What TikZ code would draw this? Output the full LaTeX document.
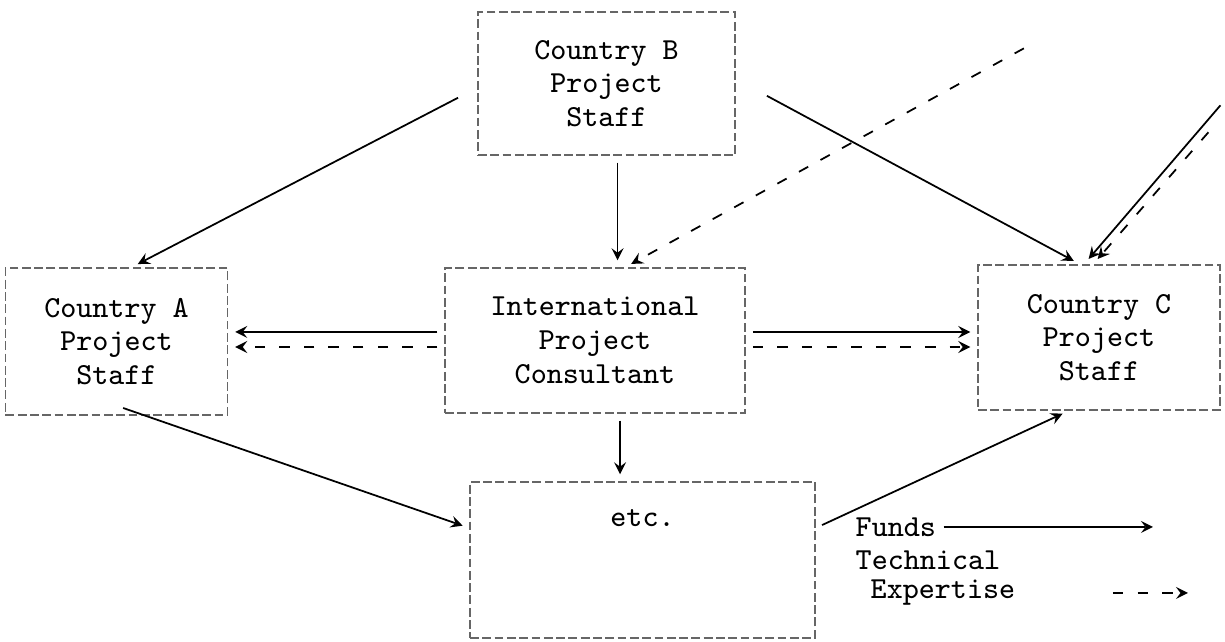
\documentclass[tikz,border=0pt]{standalone}
\usepackage{tikz}
\usetikzlibrary{calc}
\tikzset{
	box/.style={draw=black!60, dash pattern=on 2.5pt off 1pt, line width=0.4pt, inner sep=0pt, align=center, font=\fontsize{8.7}{9.6}\selectfont\ttfamily},
	fund/.style={line width=0.5pt, ->, >=stealth, shorten >=2pt, shorten <=2pt},
	expert/.style={line width=0.5pt, dash pattern=on 3pt off 4pt, ->, >=stealth, shorten >=2pt, shorten <=2pt},
	legendtext/.style={inner sep=0pt, anchor=west, font=\fontsize{8.7}{9.6}\selectfont\ttfamily}
}

\begin{document}
\begin{tikzpicture}
		%%%%% START %%%%%
		\useasboundingbox (0, 0) rectangle (12.25, -6.42);
		
		\node[box, minimum width=2.57cm, minimum height=1.43cm] (countryB) at (6.065, -0.835) {Country B\\Project\\Staff};
		\node[box, minimum width=2.22cm, minimum height=1.47cm] (countryA) at (1.165, -3.415) {Country A\\Project\\Staff};
		\node[box, minimum width=3.0cm, minimum height=1.45cm] (consultant) at (5.95, -3.405) {International\\Project\\Consultant};
		\node[box, minimum width=2.42cm, minimum height=1.45cm] (countryC) at (10.99, -3.375) {Country C\\Project\\Staff};
		\node[box, anchor=base, minimum width=3.45cm, text height=0.45cm, text depth=1.11cm] (etc) at (6.425, -5.27) {etc.};
		
		\coordinate (farTE) at (10.3, -0.45);
		\coordinate (farFundC) at (12.25, -1.0);
		\coordinate (farTEC) at (12.13, -1.27);
		
		% funds
		\draw[fund] ([shift={(-0.13,-0.11)}]countryB.west) -- ([xshift=0.15cm]countryA.north);
		\draw[fund] ([shift={(0.25,-0.09)}]countryB.east) -- ([xshift=-0.19cm]countryC.north);
		\draw[fund] ([xshift=1.1mm]countryB.south) -- ([xshift=1.1mm]countryB.south |- consultant.north);
		\draw[fund] (farFundC) -- ([xshift=-0.15cm]countryC.north);
		\draw[fund] ([yshift=0.085cm]consultant.west) -- ([yshift=0.085cm]consultant.west -| countryA.east);
		\draw[fund] ([yshift=0.085cm]consultant.east) -- ([yshift=0.085cm]consultant.east -| countryC.west);
		\draw[fund] ([xshift=2.5mm]consultant.south) -- ([xshift=2.5mm]consultant.south |- etc.north);
		\draw[fund] ([yshift=0.1cm]countryA.south) -- ([yshift=0.32cm]etc.west);
		\draw[fund] ([yshift=0.32cm]etc.east) -- ([xshift=-0.3cm]countryC.south);
		
		% technical expertise
		\draw[expert] (farTE) -- ([xshift=0.3cm]consultant.north);
		\draw[expert] (farTEC) -- ([xshift=-0.06cm]countryC.north);
		\draw[expert] ([yshift=-0.065cm]consultant.west) -- ([yshift=-0.065cm]consultant.west -| countryA.east);
		\draw[expert] ([yshift=-0.065cm]consultant.east) -- ([yshift=-0.065cm]consultant.east -| countryC.west);
		
		% legend
		\node[legendtext] (funds) at (8.55, -5.27) {Funds};
		\node[legendtext] (technical) at (8.55, -5.60) {Technical};
		\node[legendtext] (expertise) at (8.70, -5.93) {Expertise};
		\coordinate (fundsEnd) at (11.6, -5.27);
		\coordinate (expertiseEnd) at (11.95, -5.93);
		\draw[fund] (funds.east) -- (fundsEnd);
		\draw[expert] ([xshift=0.9cm]expertise.east) -- (expertiseEnd);
		
		%%%%% END %%%%%
	\end{tikzpicture}
\end{document}
